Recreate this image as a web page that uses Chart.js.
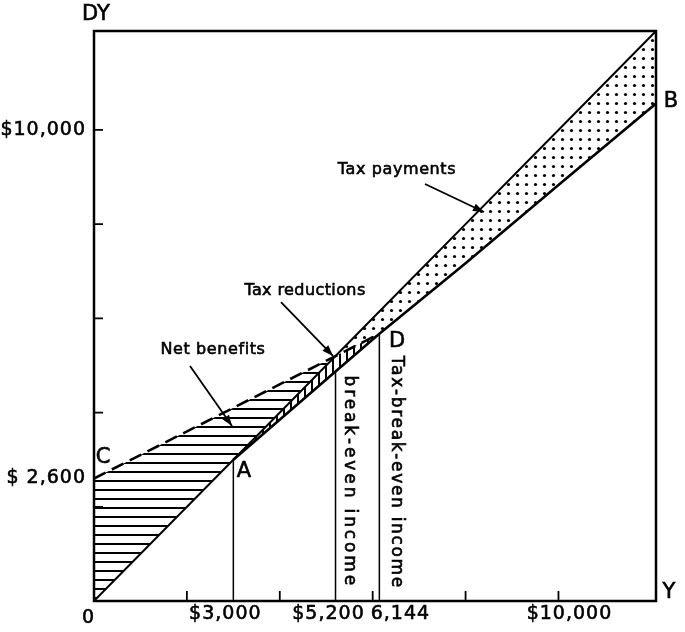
<!DOCTYPE html>
<html><head><meta charset="utf-8">
<style>html,body{margin:0;padding:0;background:#fff}canvas{display:block}</style>
<script src="https://cdn.jsdelivr.net/npm/chart.js@4.4.1/dist/chart.umd.min.js"></script>
</head><body>
<canvas id="c" width="685" height="632"></canvas>
<script>
// ---- data (income Y vs disposable income DY, dollars) ----
const axisMax = 12100;
const diagY  = [0, 3000, 5200, 6144, 8000, 10000, 12100];      // 45-degree line DY = Y
const diagDY = [0, 3000, 5200, 6144, 8000, 10000, 12100];
const taxY   = [3000, 5200, 6144, 8000, 10000, 12100];          // income after present tax (A-D-B)
const taxDY  = [3000, 4870, 5672, 7170, 8830, 10560];
const nitY   = [0, 3000, 5200, 6144];                           // negative income tax line (C-D)
const nitDY  = [2600, 4100, 5200, 5672];
const dropY   = [3000, 5200, 6144];                             // vertical guide lines
const dropTop = [3000, 4870, 5672];
const xTickValues = [3000, 5200, 6144, 10000];
const xTickLabels = ['$3,000', '$5,200', '6,144', '$10,000'];
const yTickValues = [2600, 10000];
const yTickLabels = ['$ 2,600', '$10,000'];
const minorTicks  = [2000, 4000, 6000, 8000, 10000];

const pts = (xs, ys) => xs.map((v, i) => ({x: v, y: ys[i]}));
const at = (xs, ys, v) => { const i = xs.indexOf(v); return i < 0 ? null : ys[i]; };

// regions
const netTop    = pts(nitY.slice(0, 3), nitDY.slice(0, 3));
const netBottom = pts(diagY.slice(0, 3), diagDY.slice(0, 3));
const redX      = taxY.slice(0, 3);
const redTop    = redX.map(v => ({x: v, y: Math.min(at(diagY, diagDY, v), at(nitY, nitDY, v) ?? Infinity)}));
const redBottom = pts(redX, taxDY.slice(0, 3));
const payTop    = pts(diagY.slice(2), diagDY.slice(2));
const payBottom = diagY.slice(2).map(v => ({x: v, y: Math.max(at(taxY, taxDY, v) ?? -Infinity, at(nitY, nitDY, v) ?? -Infinity)}));

// ---- patterns ----
const mainCtx = document.getElementById('c').getContext('2d');
function makePattern(w, h, draw) {
  const c = document.createElement('canvas'); c.width = w; c.height = h;
  const g = c.getContext('2d'); g.fillStyle = '#000'; draw(g);
  return mainCtx.createPattern(c, 'repeat');
}
const hLines = makePattern(8, 9, g => g.fillRect(0, 3, 8, 2));
const vLines = makePattern(7, 8, g => g.fillRect(3, 0, 2, 8));
const dots   = makePattern(9, 9, g => { g.beginPath(); g.arc(4.5, 4.5, 1.6, 0, Math.PI * 2); g.fill(); });

const FONT = '"DejaVu Sans", "Liberation Sans", sans-serif';

function drawText(ctx, txt, x, y, size, opts = {}) {
  ctx.save();
  ctx.font = size + 'px ' + FONT;
  ctx.letterSpacing = (opts.ls || 0) + 'px';
  ctx.textAlign = opts.align || 'center';
  ctx.textBaseline = 'middle';
  ctx.translate(x, y);
  if (opts.rot) ctx.rotate(opts.rot);
  ctx.fillText(txt, 0, 0);
  ctx.lineWidth = 0.6; ctx.strokeText(txt, 0, 0);
  ctx.restore();
}
function fitText(ctx, txt, x, yStart, yEnd, size) {
  ctx.save();
  ctx.font = size + 'px ' + FONT;
  ctx.letterSpacing = '0px';
  const w = ctx.measureText(txt).width;
  const ls = ((yEnd - yStart) - w) / txt.length;
  ctx.restore();
  drawText(ctx, txt, x, yStart, size, {align: 'left', rot: Math.PI / 2, ls: ls});
}
function arrow(ctx, x1, y1, x2, y2) {
  ctx.beginPath(); ctx.moveTo(x1, y1); ctx.lineTo(x2, y2); ctx.lineWidth = 1.8; ctx.stroke();
  const ang = Math.atan2(y2 - y1, x2 - x1), L = 11, W = 4;
  ctx.beginPath();
  ctx.moveTo(x2, y2);
  ctx.lineTo(x2 - L * Math.cos(ang) + W * Math.sin(ang), y2 - L * Math.sin(ang) - W * Math.cos(ang));
  ctx.lineTo(x2 - L * Math.cos(ang) - W * Math.sin(ang), y2 - L * Math.sin(ang) + W * Math.cos(ang));
  ctx.closePath(); ctx.fill();
}

const decor = {
  id: 'decor',
  afterDraw(chart) {
    const {ctx, chartArea: a, scales} = chart;
    const X = v => scales.x.getPixelForValue(v), Y = v => scales.y.getPixelForValue(v);
    ctx.save();
    ctx.strokeStyle = '#000'; ctx.fillStyle = '#000';
    // frame
    ctx.lineWidth = 2.5;
    ctx.strokeRect(a.left, a.top, a.right - a.left, a.bottom - a.top);
    // small inward ticks
    ctx.lineWidth = 1.8; ctx.beginPath();
    minorTicks.forEach(v => {
      ctx.moveTo(X(v), a.bottom); ctx.lineTo(X(v), a.bottom - 10);
      ctx.moveTo(a.left, Y(v)); ctx.lineTo(a.left + 9, Y(v));
    });
    ctx.stroke();
    // tick labels
    const xShift = [-8, -7, 21, 11];
    xTickValues.forEach((v, i) => drawText(ctx, xTickLabels[i], X(v) + xShift[i], a.bottom + 13, 19, {ls: 1}));
    yTickValues.forEach((v, i) => drawText(ctx, yTickLabels[i], a.left - 8, Y(v), 19, {align: 'right', ls: 1}));
    // axis names and points
    drawText(ctx, 'DY', X(43), Y(12440), 21);
    drawText(ctx, 'Y', X(12380), Y(170), 21);
    drawText(ctx, '0', X(-129), Y(-361), 19);
    drawText(ctx, 'C', X(194), Y(3036), 21);
    drawText(ctx, 'A', X(3230), Y(2738), 21);
    drawText(ctx, 'D', X(6524), Y(5498), 21);
    drawText(ctx, 'B', X(12423), Y(10593), 21);
    // annotations
    drawText(ctx, 'Tax payments', X(6524), Y(9149), 16, {ls: 0.6});
    arrow(ctx, X(7127), Y(8852), X(8397), Y(8258));
    drawText(ctx, 'Tax reductions', X(4543), Y(6581), 16, {ls: 0.4});
    arrow(ctx, X(4026), Y(6347), X(5146), Y(5201));
    drawText(ctx, 'Net benefits', X(2562), Y(5328), 16, {ls: 0.6});
    arrow(ctx, X(2067), Y(4989), X(2971), Y(3715));
    // vertical texts
    fitText(ctx, 'break-even income', X(5200) + 14, Y(4870) + 4, a.bottom - 13, 17);
    fitText(ctx, 'Tax-break-even income', X(6144) + 17, Y(5672) + 22, a.bottom - 12, 17);
    ctx.restore();
  }
};

const lineDs = (data, w, extra = {}) => Object.assign({data, borderColor: '#000', borderWidth: w, pointRadius: 0, fill: false, tension: 0}, extra);
const fillDs = (data, pattern, toNext) => ({data, borderWidth: 0, borderColor: 'rgba(0,0,0,0)', pointRadius: 0, tension: 0,
  backgroundColor: pattern, fill: toNext ? '+1' : false});

new Chart(document.getElementById('c'), {
  type: 'line',
  data: {
    datasets: [
      lineDs(pts(diagY, diagDY), 2),
      lineDs(pts(taxY, taxDY), 2.6),
      lineDs(pts(nitY, nitDY), 2.6, {borderDash: [13, 7]}),
      ...dropY.map((v, i) => lineDs([{x: v, y: 0}, {x: v, y: dropTop[i]}], 1.5)),
      fillDs(netTop, hLines, true), fillDs(netBottom, null, false),
      fillDs(redTop, vLines, true), fillDs(redBottom, null, false),
      fillDs(payTop, dots, true), fillDs(payBottom, null, false)
    ]
  },
  options: {
    responsive: false, animation: false, events: [],
    layout: {padding: {top: 31, right: 29, left: 0, bottom: 0}},
    plugins: {legend: {display: false}, tooltip: {enabled: false}},
    scales: {
      x: {type: 'linear', min: 0, max: axisMax, grid: {display: false}, border: {display: false},
          ticks: {display: false}, afterFit: s => { s.height = 31; }},
      y: {type: 'linear', min: 0, max: axisMax, grid: {display: false}, border: {display: false},
          ticks: {display: false}, afterFit: s => { s.width = 94; }}
    }
  },
  plugins: [decor]
});
</script>
</body></html>
